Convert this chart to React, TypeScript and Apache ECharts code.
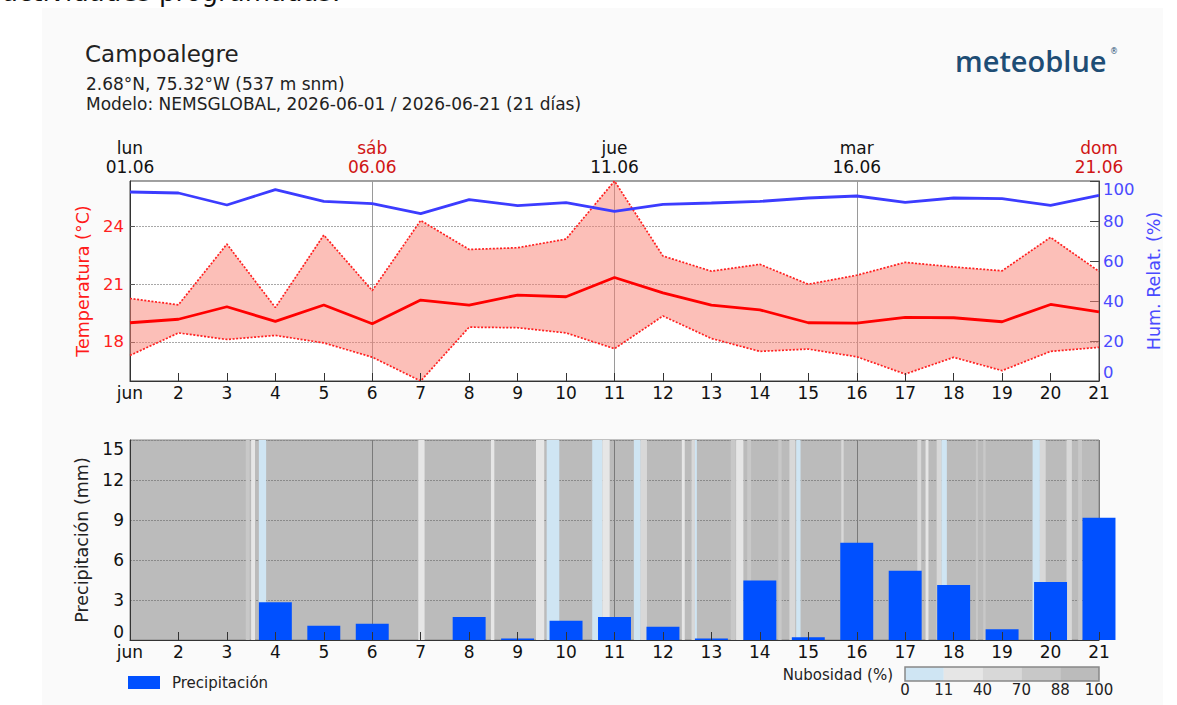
import { useEffect, useRef } from "react";
import * as echarts from "echarts";

const FONT = "DejaVu Sans";

const days = [1, 2, 3, 4, 5, 6, 7, 8, 9, 10, 11, 12, 13, 14, 15, 16, 17, 18, 19, 20, 21];
const weekdays = ["lun", "mar", "mié", "jue", "vie", "sáb", "dom", "lun", "mar", "mié", "jue", "vie", "sáb", "dom", "lun", "mar", "mié", "jue", "vie", "sáb", "dom"];
const dateLabels = ["01.06", "02.06", "03.06", "04.06", "05.06", "06.06", "07.06", "08.06", "09.06", "10.06", "11.06", "12.06", "13.06", "14.06", "15.06", "16.06", "17.06", "18.06", "19.06", "20.06", "21.06"];

const tempMean = [19.0, 19.18, 19.83, 19.07, 19.92, 18.95, 20.18, 19.92, 20.44, 20.35, 21.35, 20.55, 19.92, 19.67, 19.0, 18.98, 19.28, 19.26, 19.05, 19.95, 19.56];
const tempMax = [20.26, 19.93, 23.09, 19.79, 23.56, 20.67, 24.32, 22.81, 22.9, 23.35, 26.37, 22.47, 21.68, 22.04, 21.0, 21.47, 22.14, 21.9, 21.7, 23.44, 21.67];
const tempMin = [17.3, 18.47, 18.13, 18.34, 17.95, 17.21, 15.97, 18.77, 18.74, 18.47, 17.65, 19.35, 18.18, 17.51, 17.63, 17.23, 16.33, 17.2, 16.51, 17.51, 17.72];
const humidity = [94.5, 94, 88, 95.7, 89.8, 88.7, 83.7, 90.7, 87.7, 89.2, 84.8, 88.3, 89, 89.8, 91.5, 92.5, 89.3, 91.5, 91.2, 87.8, 92.8];
const precipitation = [0, 0, 0, 2.83, 1.07, 1.22, 0, 1.72, 0.12, 1.45, 1.72, 1.0, 0.12, 4.47, 0.2, 7.3, 5.2, 4.12, 0.8, 4.35, 9.17];

const tempTicks = [18, 21, 24];
const precipMax = 15;

// [start day, end day, cloud cover %]
const cloudStripes = [
  [3.39, 3.47, 75], [3.5, 3.58, 30], [3.66, 3.81, 5],
  [6.95, 7.08, 30], [8.45, 8.52, 30],
  [9.38, 9.55, 30], [9.6, 9.86, 5],
  [10.54, 10.75, 5], [10.75, 10.9, 30],
  [11.4, 11.54, 5], [11.54, 11.67, 60],
  [12.39, 12.45, 30], [12.59, 12.66, 60], [12.66, 12.7, 5],
  [13.4, 13.5, 75], [13.51, 13.66, 30], [13.74, 13.82, 75],
  [14.38, 14.45, 75], [14.61, 14.73, 60], [14.75, 14.84, 5],
  [15.68, 15.73, 60],
  [17.25, 17.33, 60], [17.42, 17.48, 30], [17.65, 17.75, 60], [17.75, 17.86, 5],
  [18.46, 18.5, 75], [18.61, 18.66, 75],
  [19.63, 19.78, 5], [19.78, 19.9, 60],
  [20.33, 20.44, 60], [20.57, 20.65, 75],
];
const cloudBreaks = [0, 11, 40, 70, 88, 100];
const cloudColors = ["#cfe5f3", "#e6e6e6", "#d8d8d8", "#c8c8c8", "#bbbbbb"];

function cloudColor(c: number) {
  for (let i = 0; i < cloudColors.length; i++) {
    if (c < cloudBreaks[i + 1]) return cloudColors[i];
  }
  return cloudColors[cloudColors.length - 1];
}

const pair = (arr: number[]) => days.map((d, i) => [d, arr[i]]);

export default function App() {
  const ref = useRef<HTMLDivElement>(null);

  useEffect(() => {
    if (!ref.current) return;
    const chart = echarts.init(ref.current, undefined, { renderer: "svg" });

    const catLabelInterval = (i: number) => i % 5 === 0;

    const cbX = 905;
    const cbW = 194;
    const segW = cbW / cloudColors.length;

    const graphic: any[] = [
      { type: "rect", x: 42, y: 8, shape: { width: 1121, height: 697 }, style: { fill: "#fafafa" }, z: -10 },
      { type: "text", x: 2, y: -21, style: { text: "actividades programadas.", fontSize: 26, fontFamily: FONT, fill: "#111" } },
      { type: "text", x: 85, y: 54, style: { text: "Campoalegre", fontSize: 23, fontFamily: FONT, fill: "#222", verticalAlign: "middle" } },
      { type: "text", x: 86, y: 84, style: { text: "2.68°N, 75.32°W (537 m snm)", fontSize: 17, fontFamily: FONT, fill: "#222", verticalAlign: "middle" } },
      { type: "text", x: 86, y: 104, style: { text: "Modelo: NEMSGLOBAL, 2026-06-01 / 2026-06-21 (21 días)", fontSize: 17, fontFamily: FONT, fill: "#222", verticalAlign: "middle" } },
      { type: "text", x: 955, y: 60, style: { text: "meteoblue", fontSize: 29, fontFamily: "Open Sans", fontWeight: 600, fill: "#1e4d75", verticalAlign: "middle" } },
      { type: "text", x: 1110, y: 51, style: { text: "®", fontSize: 8, fontFamily: FONT, fill: "#1e4d75", verticalAlign: "middle" } },
      { type: "text", x: 893, y: 675, style: { text: "Nubosidad (%)", fontSize: 15, fontFamily: FONT, fill: "#222", align: "right", verticalAlign: "middle" } },
    ];
    cloudColors.forEach((c, i) => {
      graphic.push({ type: "rect", x: cbX + i * segW, y: 667, shape: { width: segW, height: 14 }, style: { fill: c } });
    });
    graphic.push({ type: "rect", x: cbX, y: 667, shape: { width: cbW, height: 14 }, style: { fill: "none", stroke: "#888", lineWidth: 1.5 } });
    cloudBreaks.forEach((b, i) => {
      graphic.push({ type: "text", x: cbX + i * segW, y: 690, style: { text: String(b), fontSize: 15, fontFamily: FONT, fill: "#222", align: "center", verticalAlign: "middle" } });
    });

    const baseX = (gridIndex: number) => ({
      type: "value",
      gridIndex,
      min: 1,
      max: 21,
      interval: 1,
      position: "bottom",
      z: 5,
      axisLine: { show: true, lineStyle: { color: "#333", width: 1 } },
      axisTick: { show: true, inside: true, length: 8, lineStyle: { color: "#333" } },
      axisLabel: {
        color: "#111",
        fontSize: 17,
        fontFamily: FONT,
        margin: 3,
        formatter: (v: number) => (v === 1 ? "jun" : String(v)),
      },
      splitLine: { show: false },
    });

    const topX = (gridIndex: number, showLabels: boolean, lineColor: string) => ({
      type: "category",
      gridIndex,
      position: "top",
      data: dateLabels,
      boundaryGap: false,
      axisLine: { show: false },
      axisTick: { show: false },
      axisLabel: {
        show: showLabels,
        interval: catLabelInterval,
        margin: 5,
        formatter: (value: string, index: number) => {
          const wd = weekdays[index];
          const k = wd === "sáb" || wd === "dom" ? "r" : "k";
          return `{${k}|${wd}}\n{${k}|${value}}`;
        },
        rich: {
          r: { color: "#d01515", fontSize: 17, fontFamily: FONT, lineHeight: 19 },
          k: { color: "#111", fontSize: 17, fontFamily: FONT, lineHeight: 19 },
        },
      },
      splitLine: { show: true, interval: catLabelInterval, lineStyle: { color: lineColor, width: 1 } },
    });

    const option: any = {
      animation: false,
      backgroundColor: "transparent",
      textStyle: { fontFamily: FONT },
      grid: [
        { left: 130, top: 181, width: 969, height: 200, show: true, backgroundColor: "#ffffff", borderColor: "#444", borderWidth: 1 },
        { left: 130, top: 440, width: 969, height: 200, show: true, backgroundColor: "#bbbbbb", borderColor: "#888", borderWidth: 1 },
      ],
      legend: {
        data: [{ name: "Precipitación", icon: "rect" }],
        left: 123,
        top: 670,
        itemWidth: 32,
        itemHeight: 13,
        textStyle: { fontSize: 15, fontFamily: FONT, color: "#222", padding: [0, 0, 0, 7] },
      },
      graphic,
      xAxis: [baseX(0), topX(0, true, "#9a9a9a"), baseX(1), topX(1, false, "#7a7a7a")],
      yAxis: [
        {
          type: "value",
          gridIndex: 0,
          position: "left",
          min: Math.min(...tempMin),
          max: Math.max(...tempMax),
          splitNumber: 3,
          name: "Temperatura (°C)",
          nameLocation: "middle",
          nameGap: 36,
          nameTextStyle: { color: "#ff1a1a", fontSize: 17.5, fontFamily: FONT },
          axisLine: { show: true, lineStyle: { color: "#333" } },
          axisTick: { show: true, inside: true, length: 5, customValues: tempTicks, lineStyle: { color: "#555" } },
          axisLabel: { color: "#ff2020", fontSize: 16.5, fontFamily: FONT, margin: 6, customValues: tempTicks },
          splitLine: { show: true, lineStyle: { color: "#a8a8a8", type: [2, 1], width: 1 } },
        },
        {
          type: "value",
          gridIndex: 0,
          position: "right",
          min: 0,
          max: 100,
          interval: 20,
          name: "Hum. Relat. (%)",
          nameLocation: "middle",
          nameGap: 39,
          nameTextStyle: { color: "#4a4aff", fontSize: 17.5, fontFamily: FONT },
          axisLine: { show: true, lineStyle: { color: "#444" } },
          axisTick: { show: true, inside: true, length: 9, lineStyle: { color: "#444" } },
          axisLabel: {
            color: "#4a4aff",
            fontSize: 16.5,
            fontFamily: FONT,
            margin: 4,
            verticalAlignMinLabel: "bottom",
            verticalAlignMaxLabel: "top",
          },
          splitLine: { show: false },
        },
        {
          type: "value",
          gridIndex: 1,
          position: "left",
          min: 0,
          max: precipMax,
          interval: 3,
          name: "Precipitación (mm)",
          nameLocation: "middle",
          nameGap: 36,
          nameTextStyle: { color: "#222", fontSize: 17.5, fontFamily: FONT },
          axisLine: { show: true, lineStyle: { color: "#333" } },
          axisTick: { show: false },
          axisLabel: {
            color: "#111",
            fontSize: 17,
            fontFamily: FONT,
            margin: 6,
            verticalAlignMinLabel: "bottom",
            verticalAlignMaxLabel: "top",
          },
          splitLine: { show: true, lineStyle: { color: "#8a8a8a", type: [2, 1], width: 1 } },
        },
      ],
      series: [
        {
          name: "cloud",
          type: "custom",
          xAxisIndex: 2,
          yAxisIndex: 2,
          silent: true,
          z: 1,
          clip: true,
          encode: { x: [0, 1], y: 2 },
          data: cloudStripes,
          renderItem: (params: any, api: any) => {
            const s = api.value(0);
            const e = api.value(1);
            const c = api.value(2);
            const p0 = api.coord([s, precipMax]);
            const p1 = api.coord([e, 0]);
            return {
              type: "rect",
              shape: { x: p0[0], y: p0[1], width: p1[0] - p0[0], height: p1[1] - p0[1] },
              style: { fill: cloudColor(c) },
            };
          },
        },
        {
          name: "Precipitación",
          type: "bar",
          xAxisIndex: 2,
          yAxisIndex: 2,
          barWidth: "68%",
          clip: true,
          z: 3,
          itemStyle: { color: "#0050ff" },
          data: pair(precipitation),
        },
        {
          name: "tRange",
          type: "custom",
          xAxisIndex: 0,
          yAxisIndex: 0,
          silent: true,
          clip: true,
          z: 2,
          encode: { x: 0, y: [1, 2] },
          data: days.map((d, i) => [d, tempMin[i], tempMax[i]]),
          renderItem: (params: any, api: any) => {
            if (params.dataIndex !== 0) return null;
            const upper = days.map((d, i) => api.coord([d, tempMax[i]]));
            const lower = days.map((d, i) => api.coord([d, tempMin[i]])).reverse();
            return {
              type: "polygon",
              shape: { points: upper.concat(lower) },
              style: { fill: "rgba(250,128,114,0.5)" },
            };
          },
        },
        {
          name: "tmax",
          type: "line",
          xAxisIndex: 0,
          yAxisIndex: 0,
          symbol: "none",
          lineStyle: { color: "#ff2020", width: 1.7, type: [2, 1.6] },
          data: pair(tempMax),
          z: 3,
        },
        {
          name: "tmin",
          type: "line",
          xAxisIndex: 0,
          yAxisIndex: 0,
          symbol: "none",
          lineStyle: { color: "#ff2020", width: 1.7, type: [2, 1.6] },
          data: pair(tempMin),
          z: 3,
        },
        {
          name: "tmean",
          type: "line",
          xAxisIndex: 0,
          yAxisIndex: 0,
          symbol: "none",
          lineStyle: { color: "#ff0000", width: 2.8 },
          data: pair(tempMean),
          z: 4,
        },
        {
          name: "humidity",
          type: "line",
          xAxisIndex: 0,
          yAxisIndex: 1,
          symbol: "none",
          lineStyle: { color: "#3c3cff", width: 2.8 },
          data: pair(humidity),
          z: 4,
        },
      ],
    };

    chart.setOption(option);
    return () => chart.dispose();
  }, []);

  return (
    <div style={{ position: "fixed", left: 0, top: 0, width: 1177, height: 705, background: "#ffffff" }}>
      <div ref={ref} style={{ width: 1177, height: 705 }} />
    </div>
  );
}
